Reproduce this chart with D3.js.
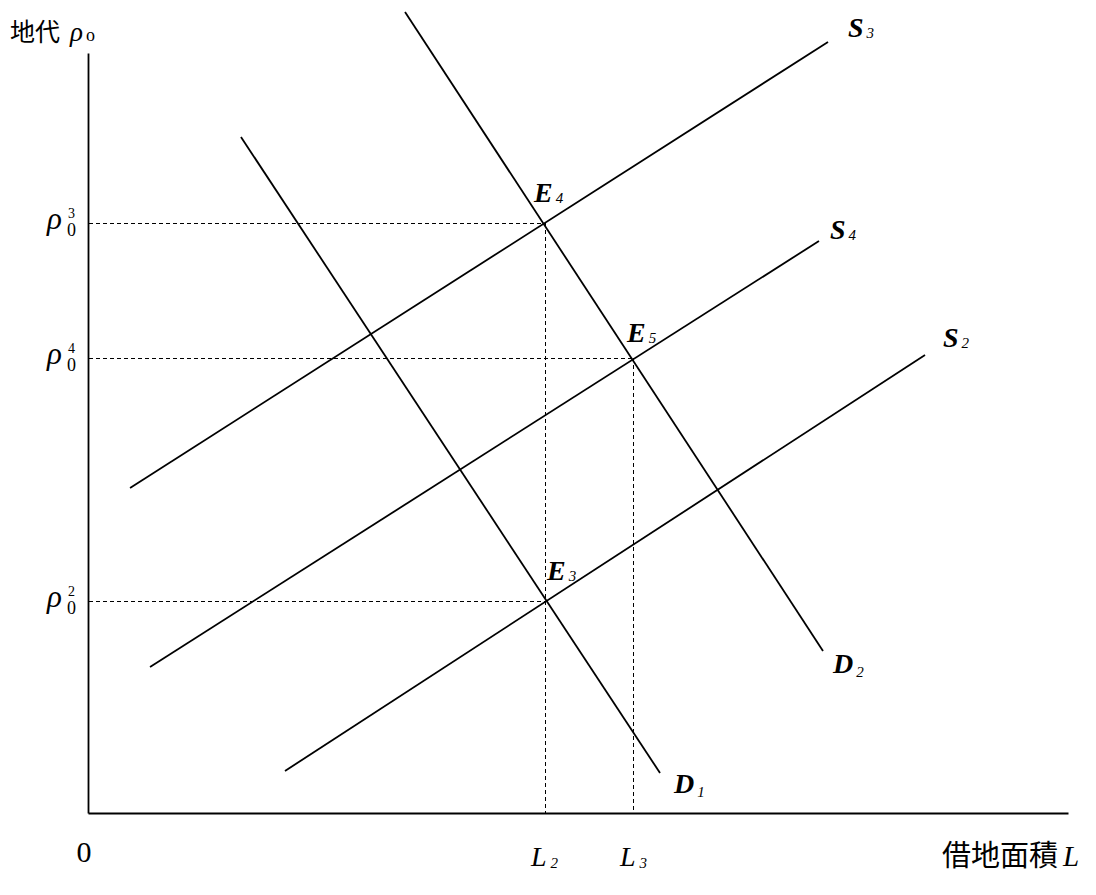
<!DOCTYPE html>
<html><head><meta charset="utf-8">
<script src="https://cdn.jsdelivr.net/npm/d3@7"></script>
<style>body{margin:0;background:#fff} svg{display:block}</style>
</head><body><svg id="c" width="1096" height="895"></svg>
<script>
// ---- data (L = leased land area, rho = land rent) ----
const curveLetters  = ["D", "D", "S", "S", "S"];
const curveSubs     = ["2", "1", "3", "4", "2"];
const curveStartL   = [32.35, 15.61, 4.29, 6.33, 20.10];
const curveStartRho = [105.39, 88.95, 42.76, 19.21, 5.53];
const curveEndL     = [75.00, 58.37, 75.51, 74.59, 85.41];
const curveEndRho   = [21.32, 5.26, 101.45, 75.26, 60.26];

const eqSubs = ["4", "5", "3"];
const eqL    = [46.63, 55.61, 46.63];
const eqRho  = [77.63, 59.87, 27.89];

const rhoTickSups = ["3", "4", "2"];
const rhoTickVals = [77.63, 59.87, 27.89];
const lTickSubs   = ["2", "3"];
const lTickVals   = [46.63, 55.61];
const lTickTops   = [77.63, 59.87];

const yTitle = "地代";
const xTitle = "借地面積";

// ---- layout ----
const svg = d3.select("#c");
const x = d3.scaleLinear().domain([0, 100]).range([88, 1068]);
const y = d3.scaleLinear().domain([0, 100]).range([813, 53]);
const serif = '"Liberation Serif","DejaVu Serif",serif';
const cjk = '"Noto Sans CJK JP","Noto Sans CJK SC",sans-serif';
const crisp = v => Math.round(v) + 0.5;

// axes
const ga = svg.append("g").attr("transform", `translate(${x(0)},0)`)
  .call(d3.axisLeft(y).tickValues([]).tickSizeOuter(0));
ga.select(".domain").attr("stroke", "#000").attr("stroke-width", 1.8);
const gb = svg.append("g").attr("transform", `translate(0,${y(0)})`)
  .call(d3.axisBottom(x).tickValues([]).tickSizeOuter(0));
gb.select(".domain").attr("stroke", "#000").attr("stroke-width", 1.8);

// dashed guides
const dash = svg.append("g").attr("stroke", "#000").attr("stroke-width", 1.3)
  .attr("stroke-dasharray", "4,3").attr("fill", "none")
  .attr("shape-rendering", "crispEdges");
dash.selectAll("line.h").data(eqRho).join("line").attr("class", "h")
  .attr("x1", x(0) + 1).attr("x2", (d, i) => x(eqL[i]))
  .attr("y1", d => crisp(y(d))).attr("y2", d => crisp(y(d)));
dash.selectAll("line.v").data(lTickVals).join("line").attr("class", "v")
  .attr("x1", d => crisp(x(d))).attr("x2", d => crisp(x(d)))
  .attr("y1", (d, i) => y(lTickTops[i])).attr("y2", y(0));

// curves
const line = d3.line().x(d => x(d[0])).y(d => y(d[1]));
const curves = curveLetters.map((c, i) => ({
  pts: [[curveStartL[i], curveStartRho[i]], [curveEndL[i], curveEndRho[i]]], i
}));
svg.append("g").selectAll("path").data(curves).join("path")
  .attr("d", d => line(d.pts)).attr("fill", "none")
  .attr("stroke", "#000").attr("stroke-width", 1.8);

// helper for letter + subscript labels
function subLabel(g, px, py, letter, sub, opt) {
  const t = g.append("text").attr("x", px).attr("y", py)
    .attr("font-family", serif).attr("fill", "#000");
  t.append("tspan").text(letter).attr("font-size", opt.size)
    .attr("font-style", "italic").attr("font-weight", opt.weight || "bold");
  t.append("tspan").text(sub).attr("font-size", opt.subSize)
    .attr("font-style", "italic").attr("dx", opt.dx || 3).attr("dy", opt.dy || 2);
}

// curve labels (offsets from end points)
const curveLabelOffset = [[10, 22], [14, 20], [20, -5], [11, -2], [18, -8]];
const lg = svg.append("g");
curves.forEach((c, i) => {
  subLabel(lg, x(curveEndL[i]) + curveLabelOffset[i][0], y(curveEndRho[i]) + curveLabelOffset[i][1],
    curveLetters[i], curveSubs[i], {size: 28, subSize: 15, dy: curveLetters[i] === "D" ? 4 : 1});
});

// equilibrium labels
const eqOffset = [[-11, -21], [-6, -16], [2, -21]];
eqSubs.forEach((s, i) => {
  subLabel(lg, x(eqL[i]) + eqOffset[i][0], y(eqRho[i]) + eqOffset[i][1], "E", s,
    {size: 28, subSize: 15, dy: 1});
});

// rho tick labels
rhoTickVals.forEach((v, i) => {
  const yy = y(v);
  lg.append("text").attr("x", 47).attr("y", yy + 6).attr("font-family", serif)
    .attr("font-style", "italic").attr("font-size", 31).text("ρ");
  lg.append("text").attr("x", 67).attr("y", yy + 13).attr("font-family", serif)
    .attr("font-size", 18).text("0");
  lg.append("text").attr("x", 68).attr("y", yy - 5).attr("font-family", serif)
    .attr("font-size", 14).text(rhoTickSups[i]);
});

// L tick labels
const lTickX = [-14, -13];
lTickVals.forEach((v, i) => {
  subLabel(lg, x(v) + lTickX[i], 866, "L", lTickSubs[i],
    {size: 28, subSize: 15, weight: "normal", dx: 4, dy: 2});
});

// origin
lg.append("text").attr("x", 84).attr("y", 862).attr("text-anchor", "middle")
  .attr("font-family", serif).attr("font-size", 30).text("0");

// axis titles
const yt = lg.append("text").attr("x", 10).attr("y", 41);
yt.append("tspan").text(yTitle).attr("font-family", cjk).attr("font-size", 25);
yt.append("tspan").text("ρ").attr("dx", 10).attr("font-family", serif)
  .attr("font-style", "italic").attr("font-size", 27);
yt.append("tspan").text("o").attr("dx", 3).attr("font-family", serif)
  .attr("font-size", 18);

const xt = lg.append("text").attr("x", 942).attr("y", 866);
xt.append("tspan").text(xTitle).attr("font-family", cjk).attr("font-size", 29);
xt.append("tspan").text("L").attr("dx", 5).attr("font-family", serif)
  .attr("font-style", "italic").attr("font-size", 29);
</script></body></html>
